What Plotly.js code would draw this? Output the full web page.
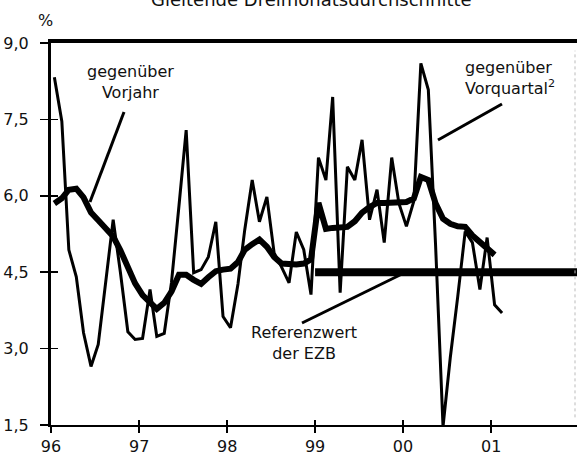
<!DOCTYPE html>
<html>
<head>
<meta charset="utf-8">
<script src="https://cdn.plot.ly/plotly-3.0.1.min.js"></script>
<style>html,body{margin:0;padding:0;background:#fff;}#chart{width:577px;height:454px;}</style>
</head>
<body>
<div id="chart"></div>
<script>
// Monthly observations, Jan 1996 - Feb 2001 (mid-month)
const months = [
 '1996-01-15','1996-02-15','1996-03-15','1996-04-15','1996-05-15','1996-06-15','1996-07-15','1996-08-15','1996-09-15','1996-10-15','1996-11-15','1996-12-15',
 '1997-01-15','1997-02-15','1997-03-15','1997-04-15','1997-05-15','1997-06-15','1997-07-15','1997-08-15','1997-09-15','1997-10-15','1997-11-15','1997-12-15',
 '1998-01-15','1998-02-15','1998-03-15','1998-04-15','1998-05-15','1998-06-15','1998-07-15','1998-08-15','1998-09-15','1998-10-15','1998-11-15','1998-12-15',
 '1999-01-15','1999-02-15','1999-03-15','1999-04-15','1999-05-15','1999-06-15','1999-07-15','1999-08-15','1999-09-15','1999-10-15','1999-11-15','1999-12-15',
 '2000-01-15','2000-02-15','2000-03-15','2000-04-15','2000-05-15','2000-06-15','2000-07-15','2000-08-15','2000-09-15','2000-10-15','2000-11-15','2000-12-15',
 '2001-01-15','2001-02-15'
];
// gegenüber Vorquartal (annualised), thin line
const vorquartal = [
 8.33,7.46,4.94,4.41,3.31,2.65,3.08,4.30,5.53,4.50,3.33,3.18,
 3.20,4.16,3.24,3.30,4.30,5.80,7.29,4.49,4.55,4.80,5.49,3.63,
 3.41,4.27,5.33,6.31,5.49,5.98,4.88,4.60,4.29,5.29,4.94,4.06,
 6.75,6.31,7.94,4.10,6.57,6.31,7.10,5.53,6.12,5.08,6.75,5.85,
 5.40,5.90,8.60,8.08,5.04,1.47,2.82,4.02,5.30,5.08,4.16,5.18,
 3.86,3.70
];
// gegenüber Vorjahr, thick line
const vorjahr = [
 5.85,5.95,6.12,6.14,5.97,5.67,5.52,5.38,5.20,4.93,4.60,4.28,
 4.05,3.90,3.78,3.90,4.12,4.45,4.45,4.35,4.27,4.40,4.52,4.55,
 4.57,4.70,4.94,5.05,5.14,5.00,4.80,4.67,4.65,4.65,4.67,4.75,
 5.86,5.35,5.37,5.37,5.39,5.50,5.67,5.78,5.86,5.86,5.86,5.86,
 5.88,5.95,6.37,6.31,5.85,5.55,5.45,5.40,5.39,5.22,5.08,4.95,
 4.84
];
// Referenzwert der EZB
const refX = ['1999-01-01','2001-12-31'];
const refY = [4.5, 4.5];

const yTickVals = [1.5, 3.0, 4.5, 6.0, 7.5, 9.0];
const yTickText = ['1,5','3,0','4,5','6,0','7,5','9,0'];
const xTickVals = ['1996-01-01','1997-01-01','1998-01-01','1999-01-01','2000-01-01','2001-01-01'];
const xTickText = ['96','97','98','99','00','01'];

const FONT = 'DejaVu Sans, Arial, sans-serif';
const xRange = ['1996-01-01','2001-12-23'];
const yRange = [1.5, 9.0];

const traces = [
  {x: refX, y: refY, mode: 'lines', line: {color: '#000', width: 8}, hoverinfo: 'skip'},
  {x: months.slice(0, vorjahr.length), y: vorjahr, mode: 'lines', line: {color: '#000', width: 6}},
  {x: months, y: vorquartal, mode: 'lines', line: {color: '#000', width: 3}},
  // helpers for overlay axes (no visible mark)
  {x: [xTickVals[0]], y: [yRange[0]], xaxis: 'x2', yaxis: 'y2', mode: 'markers', marker: {opacity: 0}, hoverinfo: 'skip'},
  {x: [xTickVals[0]], y: [yRange[0]], xaxis: 'x3', yaxis: 'y', mode: 'markers', marker: {opacity: 0}, hoverinfo: 'skip'}
];

const layout = {
  width: 577, height: 454,
  margin: {l: 51, r: 0, t: 43, b: 29},
  paper_bgcolor: '#fff', plot_bgcolor: '#fff',
  showlegend: false,
  font: {family: FONT, size: 16, color: '#111'},
  xaxis: {
    type: 'date', range: xRange, showgrid: false, zeroline: false,
    showline: true, linecolor: '#000', linewidth: 2,
    tickmode: 'array', tickvals: xTickVals, ticktext: xTickText,
    ticks: 'outside', ticklen: 6, tickwidth: 1.5, tickcolor: '#000',
    ticklabelstandoff: 0,
    tickfont: {family: FONT, size: 16, color: '#111'}
  },
  xaxis2: {
    type: 'date', range: xRange, overlaying: 'x', anchor: 'y2', side: 'bottom',
    showgrid: false, zeroline: false, showline: false, showticklabels: false,
    tickmode: 'array', tickvals: xTickVals,
    ticks: 'inside', ticklen: 5, tickwidth: 1.5, tickcolor: '#000'
  },
  xaxis3: {
    type: 'date', range: xRange, overlaying: 'x', anchor: 'y', side: 'top',
    showgrid: false, zeroline: false, showline: true, linecolor: '#000', linewidth: 4,
    showticklabels: false, ticks: ''
  },
  yaxis: {
    range: yRange, showgrid: false, zeroline: false,
    showline: true, linecolor: '#000', linewidth: 3,
    tickmode: 'array', tickvals: yTickVals, ticktext: yTickText,
    ticks: 'outside', ticklen: 8, tickwidth: 1.5, tickcolor: '#000',
    ticklabelstandoff: 8,
    tickfont: {family: FONT, size: 16, color: '#111'}
  },
  yaxis2: {
    range: yRange, overlaying: 'y', anchor: 'x2', side: 'left',
    showgrid: false, zeroline: false, showline: false, showticklabels: false,
    tickmode: 'array', tickvals: yTickVals,
    ticks: 'inside', ticklen: 7, tickwidth: 1.5, tickcolor: '#000'
  },
  annotations: [
    {xref: 'paper', yref: 'paper', x: 0.496, y: 1.115, xanchor: 'center', yanchor: 'middle',
     text: 'Gleitende Dreimonatsdurchschnitte', showarrow: false, font: {family: FONT, size: 18, color: '#111'}},
    {xref: 'paper', yref: 'paper', x: -0.0114, y: 1.0576, xanchor: 'center', yanchor: 'middle',
     text: '%', showarrow: false, font: {family: FONT, size: 16, color: '#111'}},
    {xref: 'paper', yref: 'paper', x: 0.152, y: 0.898, xanchor: 'center', yanchor: 'middle', align: 'center',
     text: 'gegenüber<br>Vorjahr', showarrow: false, font: {family: FONT, size: 16, color: '#111'}},
    {xref: 'paper', yref: 'paper', x: 0.783, y: 0.908, xanchor: 'left', yanchor: 'middle', align: 'left',
     text: 'gegenüber<br>Vorquartal<sup>2</sup>', showarrow: false, font: {family: FONT, size: 16, color: '#111'}},
    {xref: 'paper', yref: 'paper', x: 0.481, y: 0.2134, xanchor: 'center', yanchor: 'middle', align: 'center',
     text: 'Referenzwert<br>der EZB', showarrow: false, font: {family: FONT, size: 16, color: '#111'}}
  ],
  shapes: [
    {type: 'line', xref: 'paper', yref: 'paper', x0: 0.1388, y0: 0.8194, x1: 0.0741, y1: 0.5838, line: {color: '#000', width: 3}},
    {type: 'line', xref: 'paper', yref: 'paper', x0: 0.8574, y0: 0.8403, x1: 0.7357, y1: 0.7461, line: {color: '#000', width: 3}},
    {type: 'line', xref: 'paper', yref: 'paper', x0: 0.4772, y0: 0.2670, x1: 0.6673, y1: 0.3953, line: {color: '#000', width: 3}},
    {type: 'line', xref: 'paper', yref: 'paper', x0: 0.9962, y0: 0.02, x1: 0.9962, y1: 0.98, line: {color: '#bbb', width: 1, dash: 'dot'}}
  ]
};

Plotly.newPlot('chart', traces, layout, {staticPlot: true, displayModeBar: false});
</script>
</body>
</html>
